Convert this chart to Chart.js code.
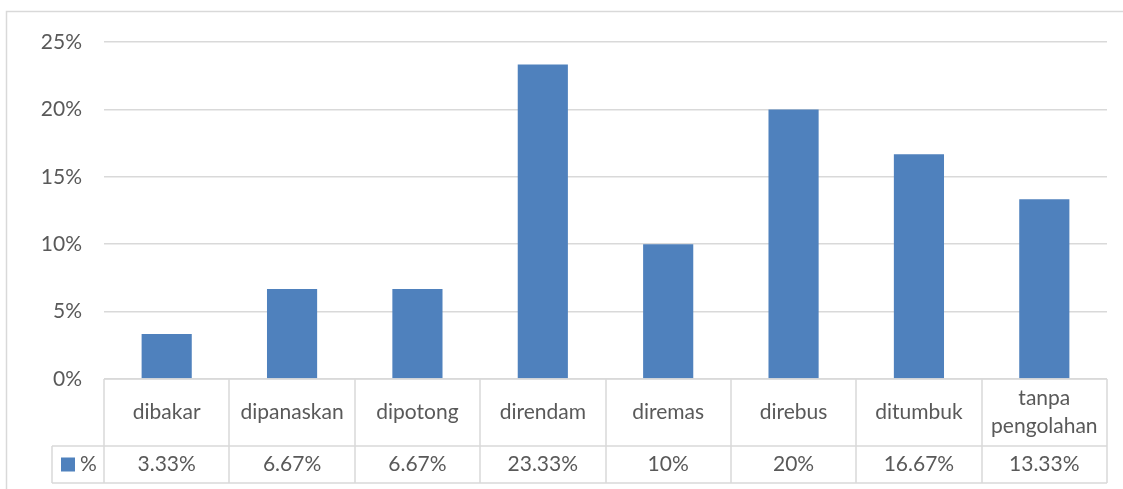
<!DOCTYPE html>
<html>
<head>
<meta charset="utf-8">
<script src="https://cdn.jsdelivr.net/npm/chart.js@4.4.0/dist/chart.umd.min.js"></script>
<style>
  html, body { margin: 0; padding: 0; background: #fff; }
  #wrap { width: 1123px; height: 489px; position: relative; }
</style>
</head>
<body>
<div id="wrap"><canvas id="chart"></canvas></div>
<script>
// data
const categories = ['dibakar', 'dipanaskan', 'dipotong', 'direndam', 'diremas', 'direbus', 'ditumbuk', ['tanpa', 'pengolahan']];
const percentValues = [3.33, 6.67, 6.67, 23.33, 10, 20, 16.67, 13.33];
const valueLabels = ['3.33%', '6.67%', '6.67%', '23.33%', '10%', '20%', '16.67%', '13.33%'];
const seriesName = '%';
const yTicks = [0, 5, 10, 15, 20, 25];

const textColor = '#595959';
const lineColor = '#d9d9d9';
const barColor = '#4f81bd';
const fontFamily = 'Lato, "Open Sans", sans-serif';
const fontSize = 21;

// draws the outer frame and the data table under the plot
const dataTablePlugin = {
  id: 'dataTable',
  beforeDraw(chart) {
    const ctx = chart.ctx;
    ctx.save();
    ctx.fillStyle = '#fff';
    ctx.fillRect(0, 0, chart.width, chart.height);
    ctx.strokeStyle = lineColor;
    ctx.lineWidth = 1.5;
    ctx.strokeRect(6.5, 11.5, chart.width + 10, chart.height - 10);
    ctx.restore();
  },
  afterDraw(chart) {
    const ctx = chart.ctx;
    const x = chart.scales.x;
    const area = chart.chartArea;
    const top = area.bottom;
    const mid = top + 67;
    const bottom = top + 104;
    const legendLeft = 52;
    const step = x.getPixelForValue(1) - x.getPixelForValue(0);

    ctx.save();
    ctx.strokeStyle = lineColor;
    ctx.lineWidth = 1.5;
    ctx.beginPath();
    // horizontal rules
    ctx.moveTo(area.left, top); ctx.lineTo(area.right, top);
    ctx.moveTo(legendLeft, mid); ctx.lineTo(area.right, mid);
    ctx.moveTo(legendLeft, bottom); ctx.lineTo(area.right, bottom);
    // vertical rules
    ctx.moveTo(legendLeft, mid); ctx.lineTo(legendLeft, bottom);
    for (let i = 0; i <= categories.length; i++) {
      const px = Math.round(x.getPixelForValue(i) - step / 2);
      ctx.moveTo(px, top); ctx.lineTo(px, bottom);
    }
    ctx.stroke();

    ctx.fillStyle = textColor;
    ctx.font = fontSize + 'px ' + fontFamily;
    ctx.textAlign = 'center';
    ctx.textBaseline = 'middle';
    categories.forEach((c, i) => {
      const cx = x.getPixelForValue(i);
      if (Array.isArray(c)) {
        ctx.fillText(c[0], cx, (top + mid) / 2 - 14);
        ctx.fillText(c[1], cx, (top + mid) / 2 + 14);
      } else {
        ctx.fillText(c, cx, (top + mid) / 2);
      }
      ctx.fillText(valueLabels[i], cx, (mid + bottom) / 2);
    });

    // legend key
    ctx.fillStyle = barColor;
    ctx.fillRect(61, (mid + bottom) / 2 - 7, 14, 14);
    ctx.fillStyle = textColor;
    ctx.textAlign = 'left';
    ctx.fillText(seriesName, 80, (mid + bottom) / 2);
    ctx.restore();
  }
};

new Chart(document.getElementById('chart'), {
  type: 'bar',
  data: {
    labels: categories,
    datasets: [{
      label: seriesName,
      data: percentValues,
      backgroundColor: barColor,
      barPercentage: 0.4,
      categoryPercentage: 1
    }]
  },
  options: {
    responsive: true,
    maintainAspectRatio: false,
    animation: false,
    layout: { padding: { top: 42, right: 16, bottom: 110, left: 0 } },
    plugins: {
      legend: { display: false },
      tooltip: { enabled: false }
    },
    scales: {
      x: { display: false },
      y: {
        min: 0,
        max: 25,
        afterFit(scale) { scale.width = 104; },
        afterBuildTicks(scale) { scale.ticks = yTicks.map(v => ({ value: v })); },
        border: { display: false },
        grid: { color: lineColor, lineWidth: 1.5, drawTicks: false },
        ticks: {
          color: textColor,
          padding: 22,
          font: { family: fontFamily, size: fontSize },
          callback: v => v + '%'
        }
      }
    }
  },
  plugins: [dataTablePlugin]
});
</script>
</body>
</html>
